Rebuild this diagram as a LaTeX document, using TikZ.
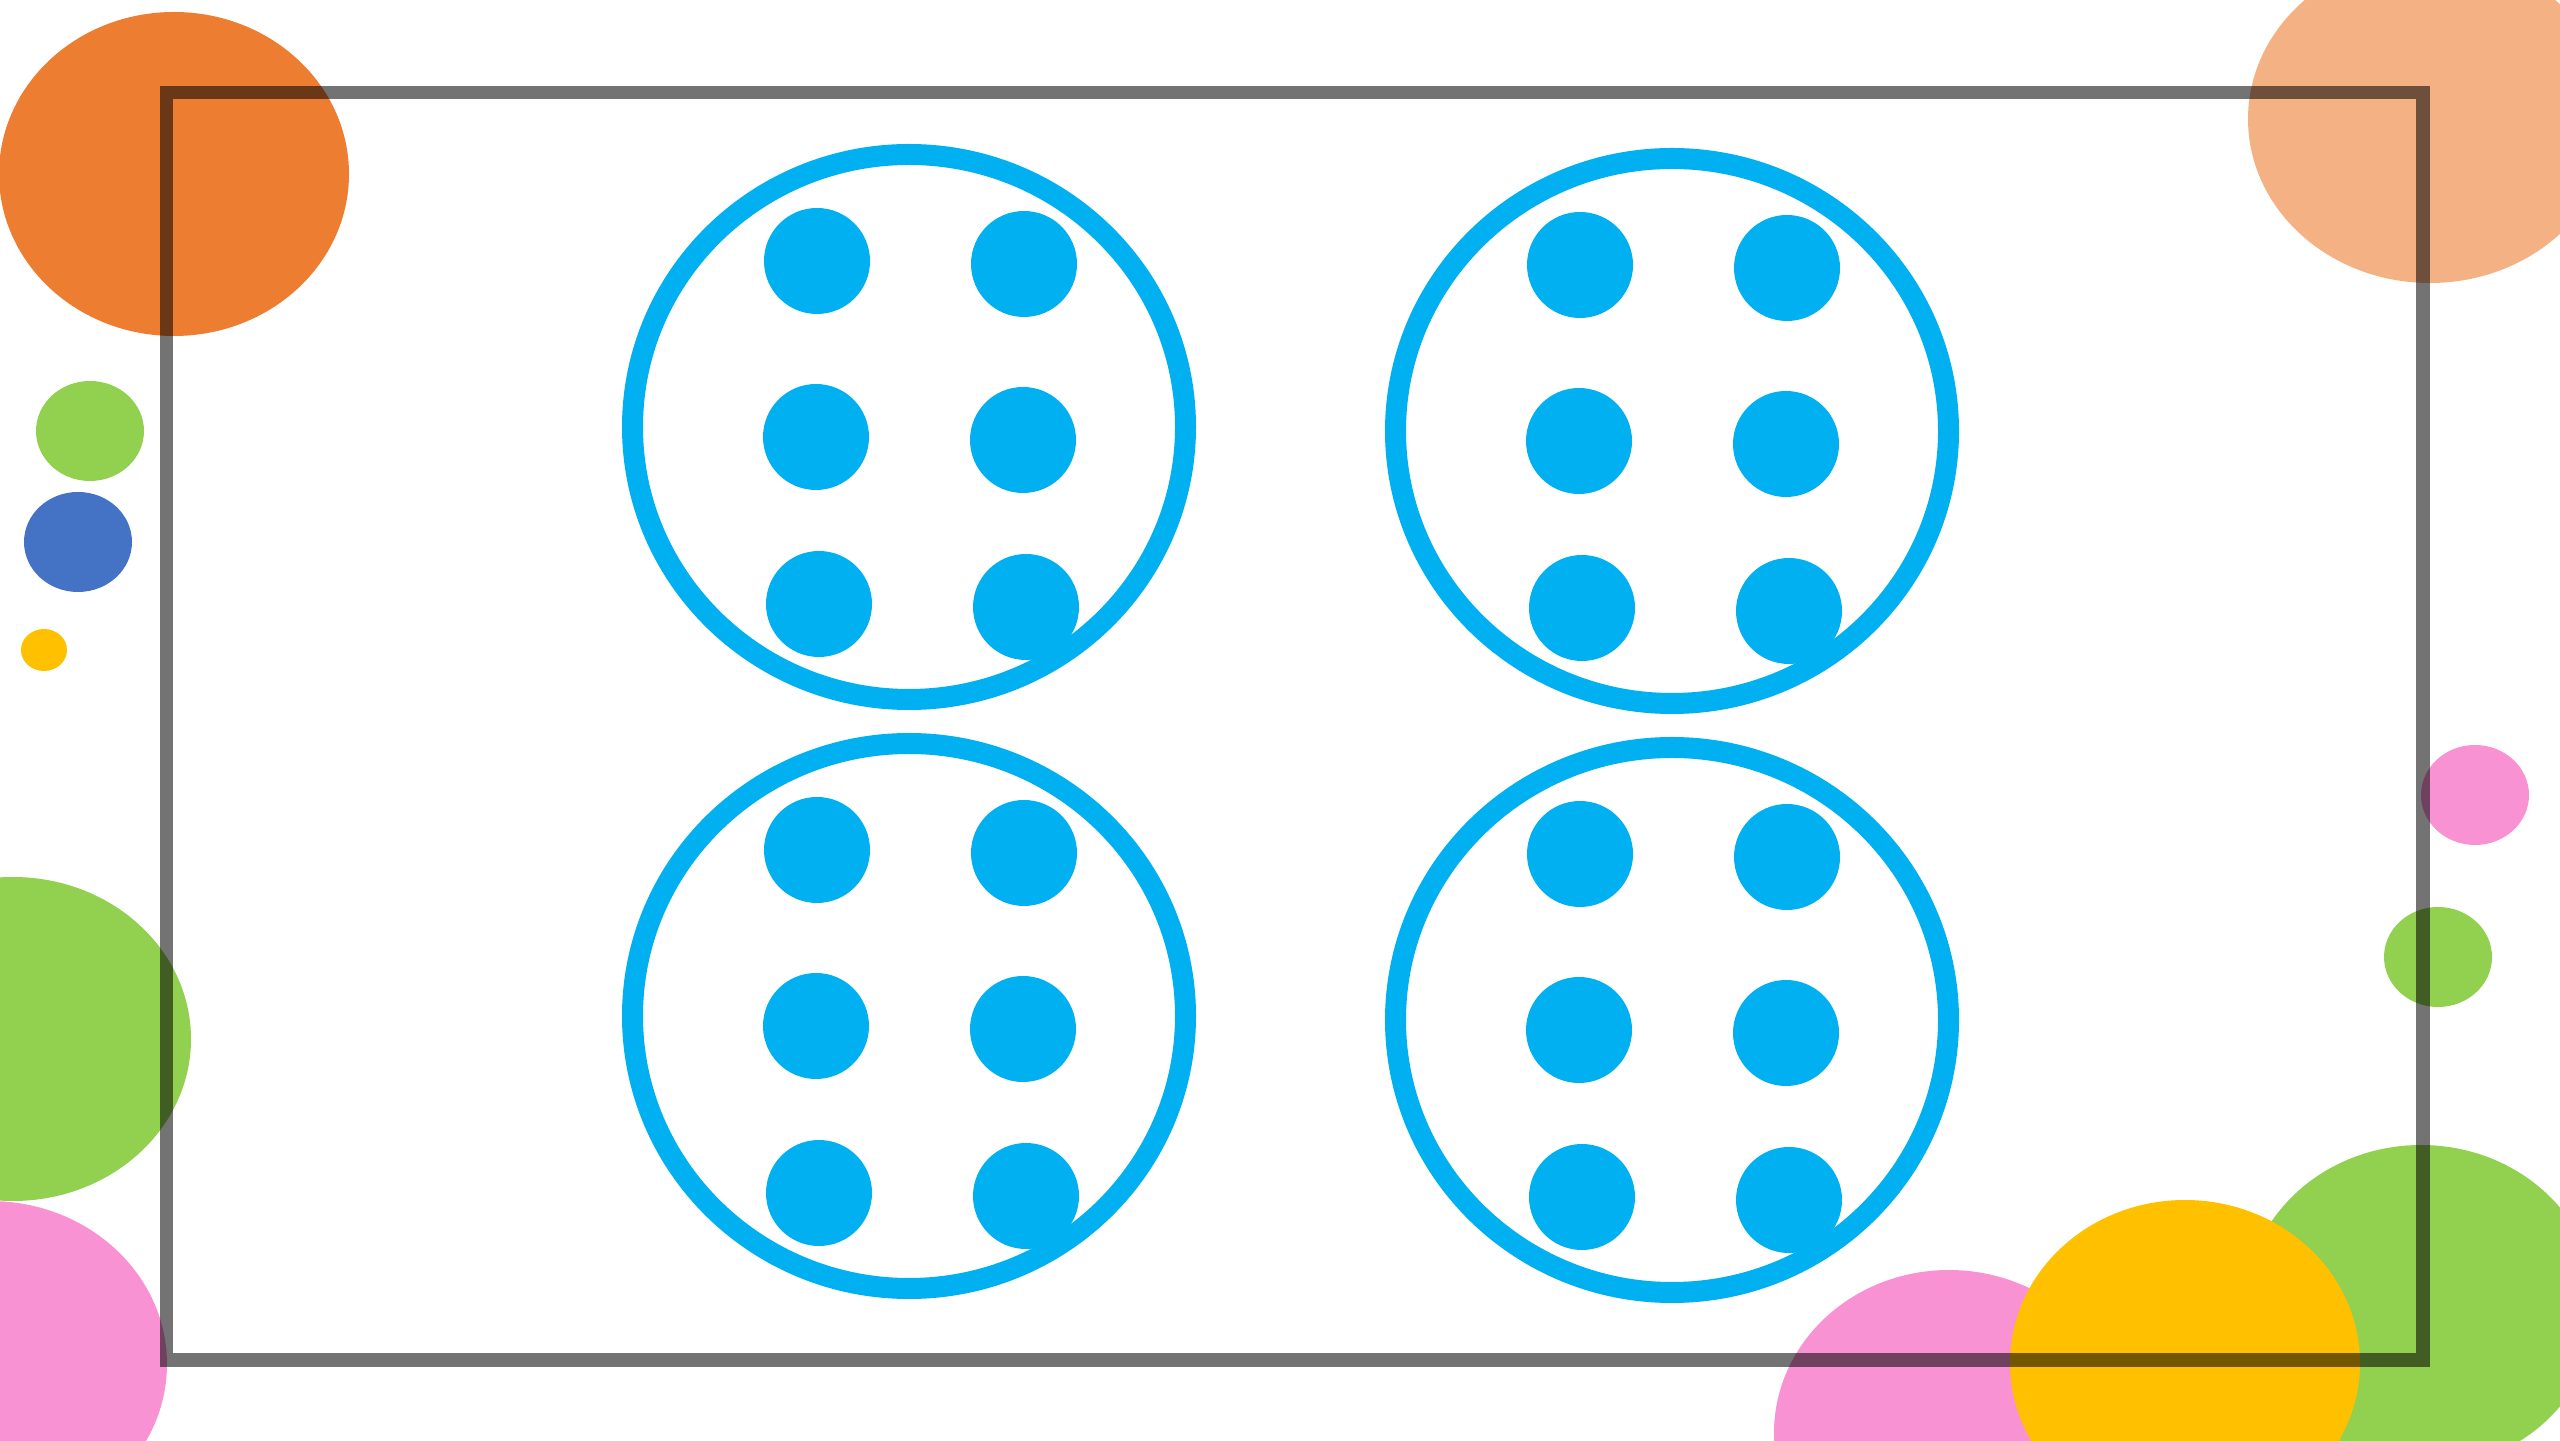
\documentclass[tikz,border=0pt]{standalone}
\usepackage{tikz}

\definecolor{ringblue}{HTML}{00B0F0}
\definecolor{blobOrange}{HTML}{ED7D31}
\definecolor{blobPeach}{HTML}{F4B183}
\definecolor{blobGreen}{HTML}{92D050}
\definecolor{blobBlue}{HTML}{4472C4}
\definecolor{blobYellow}{HTML}{FFC000}
\definecolor{blobPink}{HTML}{F992D2}

\tikzset{
  blob/.style={fill=#1, draw=none},
  ring/.style={draw=ringblue, line width=0.21cm},
  dot/.style={fill=ringblue, draw=none},
  frame/.style={draw=black, draw opacity=0.55, line width=0.133cm, line join=miter}
}

\begin{document}
\begin{tikzpicture}
  \useasboundingbox (0,0) rectangle (25.6,14.4);
  \clip (0,0) rectangle (25.6,14.4);

  % background blobs
  \fill[blob=blobOrange] (1.74,12.66) ellipse [x radius=1.75, y radius=1.62];
  \fill[blob=blobPeach]  (24.30,13.21) ellipse [x radius=1.82, y radius=1.64];
  \fill[blob=blobGreen]  (0.90,10.09) ellipse [x radius=0.54, y radius=0.50];
  \fill[blob=blobBlue]   (0.78,8.98)  ellipse [x radius=0.54, y radius=0.50];
  \fill[blob=blobYellow] (0.44,7.90)  ellipse [x radius=0.23, y radius=0.21];
  \fill[blob=blobGreen]  (0.13,4.01)  ellipse [x radius=1.78, y radius=1.62];
  \fill[blob=blobPink]   (-0.10,0.76) ellipse [x radius=1.77, y radius=1.63];
  \fill[blob=blobPink]   (24.75,6.45) ellipse [x radius=0.54, y radius=0.50];
  \fill[blob=blobGreen]  (24.38,4.83) ellipse [x radius=0.54, y radius=0.50];
  \fill[blob=blobGreen]  (24.21,1.33) ellipse [x radius=1.76, y radius=1.62];
  \fill[blob=blobPink]   (19.49,0.07) ellipse [x radius=1.75, y radius=1.63];
  \fill[blob=blobYellow] (21.85,0.77) ellipse [x radius=1.75, y radius=1.63];

  % four rings with six dots each
  \coordinate (TL) at (9.09,10.13);
  \coordinate (TR) at (16.72,10.09);
  \coordinate (BL) at (9.09,4.24);
  \coordinate (BR) at (16.72,4.20);
  \foreach \c in {TL,TR,BL,BR} {
    \draw[ring] (\c) ellipse [x radius=2.765, y radius=2.725];
    \foreach \dx/\dy in {-0.92/1.66, -0.93/-0.10, -0.90/-1.77,
                         1.15/1.63, 1.14/-0.13, 1.17/-1.80}
      \fill[dot] ([shift={(\dx,\dy)}]\c) circle (0.53);
  }

  % frame
  \draw[frame] (1.665,13.475) rectangle (24.23,0.80);
\end{tikzpicture}
\end{document}
